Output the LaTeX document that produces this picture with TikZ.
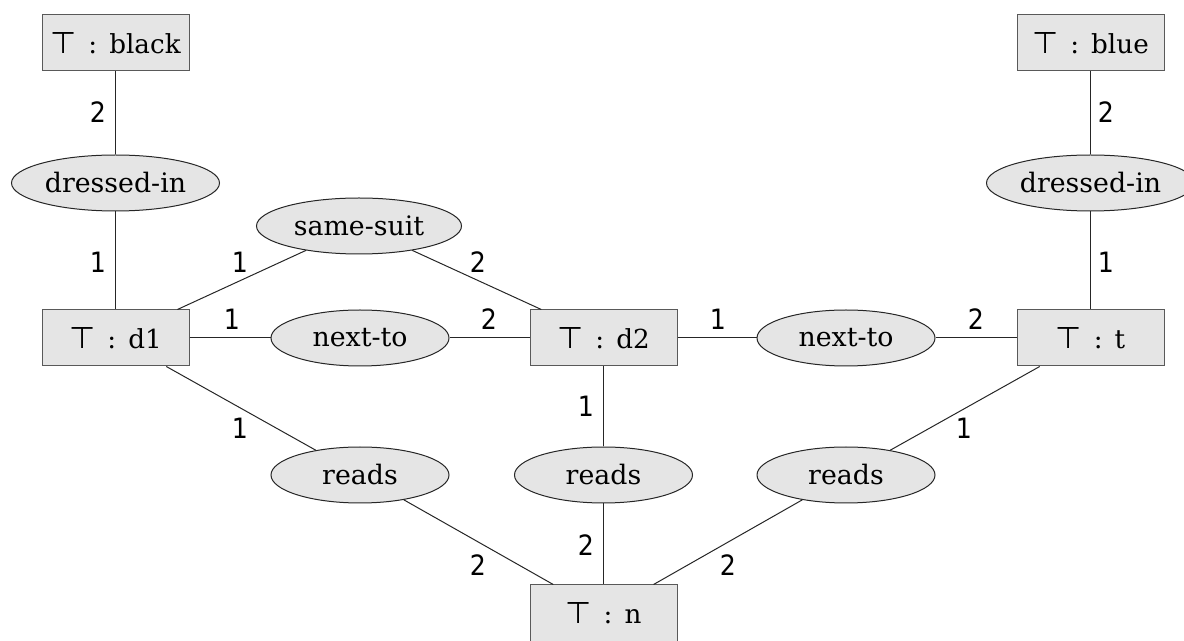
\documentclass[tikz,border=0pt]{standalone}
\usepackage{fontspec}
\setmainfont{DejaVu Serif}
\newfontfamily\symfont{DejaVu Sans}
\newfontfamily\digfont{DejaVu Sans Condensed}
\usetikzlibrary{shapes.geometric}
\begin{document}
\begin{tikzpicture}[x=0.5pt,y=-0.5pt,
  txt/.style={font=\fontsize{13.4}{16}\selectfont},
  typebox/.style={font=\fontsize{13.1}{15}\selectfont,rectangle,draw=black!65,fill=black!10,line width=0.5pt,
    minimum width=73.5pt,minimum height=28pt,inner sep=0pt},
  rel/.style={txt,ellipse,draw=black!85,fill=black!10,line width=0.5pt,
    minimum height=28pt,minimum width=#1,inner sep=0pt},
  rel/.default=89pt,
  conn/.style={draw=black!85,line width=0.5pt},
  lbl/.style={font=\digfont\fontsize{14}{16}\selectfont,inner sep=0pt}]
\newcommand{\tp}[1]{{\symfont\fontsize{15}{16}\selectfont ⊤}\hspace{6pt}:\hspace{6pt}#1}
\useasboundingbox (0,0) rectangle (1184,641);

% type nodes
\node[typebox] (black) at (115.5,43) {\tp{black}};
\node[typebox] (blue)  at (1090.5,43) {\tp{blue}};
\node[typebox] (d1)    at (115.5,338) {\tp{d1}};
\node[typebox] (d2)    at (603.5,338) {\tp{d2}};
\node[typebox] (t)     at (1090.5,338) {\tp{t}};
\node[typebox] (n)     at (603.5,613) {\tp{n}};

% relation nodes
\node[rel=104pt] (dl) at (115.5,183) {dressed-in};
\node[rel=104pt] (dr) at (1090.5,183) {dressed-in};
\node[rel=102.5pt] (ss) at (359,226) {same-suit};
\node[rel] (nl) at (360,338) {next-to};
\node[rel] (nr) at (846,338) {next-to};
\node[rel] (rl) at (360,475) {reads};
\node[rel] (rm) at (603.5,475) {reads};
\node[rel] (rr) at (846,475) {reads};

% connectors
\draw[conn] (black) -- (dl);
\draw[conn] (dl) -- (d1);
\draw[conn] (blue) -- (dr);
\draw[conn] (dr) -- (t);
\draw[conn] (d1) -- (ss);
\draw[conn] (ss) -- (d2);
\draw[conn] (d1) -- (nl);
\draw[conn] (nl) -- (d2);
\draw[conn] (d2) -- (nr);
\draw[conn] (nr) -- (t);
\draw[conn] (d1) -- (rl);
\draw[conn] (rl) -- (n);
\draw[conn] (d2) -- (rm);
\draw[conn] (rm) -- (n);
\draw[conn] (t) -- (rr);
\draw[conn] (rr) -- (n);

% labels
\node[lbl] (a1) at (98,112) {2};
\node[lbl] (a2) at (98,262) {1};
\node[lbl] (a3) at (240,262) {1};
\node[lbl] (a4) at (478,262) {2};
\node[lbl] (a5) at (232,319) {1};
\node[lbl] (a6) at (489,319) {2};
\node[lbl] (a7) at (718,319) {1};
\node[lbl] (a8) at (976,319) {2};
\node[lbl] (a9) at (1106,112) {2};
\node[lbl] (a10) at (1106,262) {1};
\node[lbl] (a11) at (240,428) {1};
\node[lbl] (a12) at (586,406) {1};
\node[lbl] (a13) at (964,428) {1};
\node[lbl] (a14) at (478,565) {2};
\node[lbl] (a15) at (586,545) {2};
\node[lbl] (a16) at (728,565) {2};
\end{tikzpicture}
\end{document}
